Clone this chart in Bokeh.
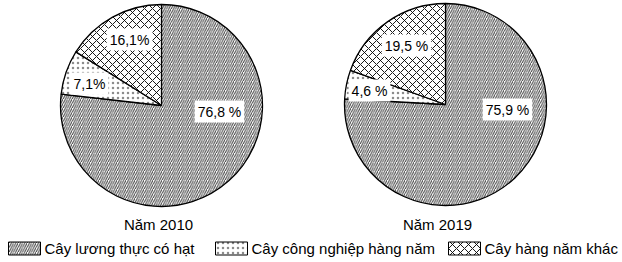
import math
from bokeh.plotting import figure
from bokeh.models import Range1d
from bokeh.core.properties import value
from bokeh.embed import file_html
from bokeh.resources import INLINE

# ---- data ----
categories = ["Cây lương thực có hạt", "Cây công nghiệp hàng năm", "Cây hàng năm khác"]
years = ["Năm 2010", "Năm 2019"]
values_2010 = [76.8, 7.1, 16.1]
values_2019 = [75.9, 4.6, 19.5]
labels_2010 = ["76,8 %", "7,1%", "16,1%"]
labels_2019 = ["75,9 %", "4,6 %", "19,5 %"]

# ---- layout / style ----
W, H = 622, 262
FONT = "Liberation Sans"
centers = [(161, 105), (445, 104)]      # pixel coords (y down)
radius = 101
label_offsets = [
    [(58, 6), (-72, -22), (-32, -66)],
    [(62, 5), (-76, -14), (-39, -59)],
]
title_pos = [(158, 224), (437, 224)]
hatch_styles = [
    dict(hatch_pattern="right_diagonal_line", hatch_scale=4.5, hatch_weight=1.0, hatch_alpha=0.75),
    dict(hatch_pattern="dot", hatch_scale=5, hatch_weight=0.4, hatch_alpha=0.45),
    dict(hatch_pattern="diagonal_cross", hatch_scale=8, hatch_weight=1.0, hatch_alpha=0.9),
]
legend_swatch_x = [8, 215, 448]
legend_y = 248

def Y(py):
    return H - py

p = figure(width=W, height=H, output_backend="svg", toolbar_location=None,
           x_range=Range1d(0, W), y_range=Range1d(0, H), min_border=0)
p.axis.visible = False
p.grid.visible = False
p.outline_line_color = None
p.background_fill_color = "white"
p.border_fill_color = "white"

for (cx, cy), vals, labs, offs, title, (tx, ty) in zip(
        centers, [values_2010, values_2019], [labels_2010, labels_2019],
        label_offsets, years, title_pos):
    total = sum(vals)
    start = math.pi / 2
    for v, hs in zip(vals, hatch_styles):
        end = start - 2 * math.pi * v / total
        p.wedge(x=[cx], y=[Y(cy)], radius=radius, start_angle=[start], end_angle=[end],
                direction="clock", fill_color="white", line_color="black", line_width=1.3,
                hatch_color="black", **hs)
        start = end
    for lab, (dx, dy) in zip(labs, offs):
        p.text(x=[cx + dx], y=[Y(cy + dy)], text=[lab], text_font=value(FONT),
               text_font_size="14px", text_align="center", text_baseline="middle",
               text_color="black", background_fill_color="white", padding=3)
    p.text(x=[tx], y=[Y(ty)], text=[title], text_font=value(FONT), text_font_size="15px",
           text_align="center", text_baseline="middle", text_color="black")

for xs, cat, hs in zip(legend_swatch_x, categories, hatch_styles):
    p.rect(x=[xs + 16], y=[Y(legend_y)], width=32, height=13, fill_color="white",
           line_color="black", line_width=1, hatch_color="black", **hs)
    p.text(x=[xs + 36], y=[Y(legend_y)], text=[cat], text_font=value(FONT),
           text_font_size="15px", text_align="left", text_baseline="middle", text_color="black")

open("out.html", "w").write(file_html(p, INLINE))
